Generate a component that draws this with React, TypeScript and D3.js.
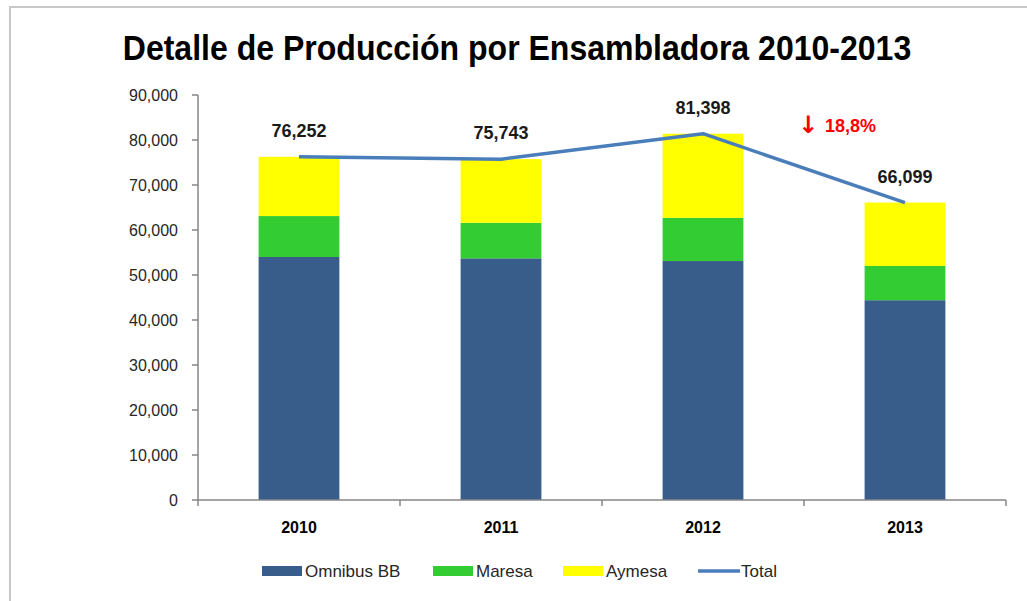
import React from 'react';
import * as d3 from 'd3';

const width = 1027;
const height = 601;

const years = ['2010', '2011', '2012', '2013'];
const omnibus = [54000, 53700, 53100, 44400];
const maresa = [9100, 7900, 9600, 7600];
const aymesa = [13152, 14143, 18698, 14099];
const totals = [76252, 75743, 81398, 66099];
const yTicks = [0, 10000, 20000, 30000, 40000, 50000, 60000, 70000, 80000, 90000];

const seriesNames = ['Omnibus BB', 'Maresa', 'Aymesa'];
const colors = ['#385d8a', '#33cc33', '#ffff00'];
const lineColor = '#4a7ebb';
const font = '"Liberation Sans", Arial, sans-serif';

const x = d3.scaleBand().domain(years).range([198, 1006]).paddingInner(0.6).paddingOuter(0.3);
const y = d3.scaleLinear().domain([0, 90000]).range([500, 95]);

const rows = years.map((yr, i) => ({ year: yr, 'Omnibus BB': omnibus[i], Maresa: maresa[i], Aymesa: aymesa[i] }));
const stacked = d3.stack().keys(seriesNames)(rows as any);

const fmt = d3.format(',');

const totalLine = d3
  .line<number>()
  .x((d, i) => x(years[i])! + x.bandwidth() / 2)
  .y(d => y(d));

const step = x.step();
const boundaries = d3.range(years.length + 1).map(i => 198 + i * step);

const legend = [
  { label: 'Omnibus BB', color: colors[0], x: 262, type: 'rect' },
  { label: 'Maresa', color: colors[1], x: 433, type: 'rect' },
  { label: 'Aymesa', color: colors[2], x: 563, type: 'rect' },
  { label: 'Total', color: lineColor, x: 698, type: 'line' }
];

export default function App() {
  return (
    <div style={{ position: 'absolute', left: 0, top: 0 }}>
      <svg width={width} height={height} style={{ display: 'block', background: '#fff' }}>
        <rect x={10} y={7} width={1030} height={600} fill="#fff" stroke="#c8c8c8" strokeWidth={2} />
        <g transform="translate(517,60) scale(0.89,1)">
          <text
            x={0}
            y={0}
            textAnchor="middle"
            style={{ fontFamily: font, fontWeight: 'bold', fontSize: '36px', fill: '#000' }}
          >
            Detalle de Producción por Ensambladora 2010-2013
          </text>
        </g>

        {/* stacked bars */}
        {stacked.map((layer, li) => (
          <g key={layer.key} fill={colors[li]}>
            {layer.map((d, i) => (
              <rect
                key={i}
                x={x(years[i])}
                y={y(d[1])}
                width={x.bandwidth()}
                height={y(d[0]) - y(d[1])}
              />
            ))}
          </g>
        ))}

        {/* y axis */}
        <line x1={198} x2={198} y1={y(90000)} y2={y(0)} stroke="#868686" strokeWidth={1.5} />
        {yTicks.map(t => (
          <g key={t}>
            <line x1={192} x2={198} y1={y(t)} y2={y(t)} stroke="#868686" strokeWidth={1.5} />
            <text
              x={178}
              y={y(t)}
              dy="0.36em"
              textAnchor="end"
              style={{ fontFamily: font, fontSize: '16px', fill: '#262626' }}
            >
              {fmt(t)}
            </text>
          </g>
        ))}

        {/* x axis */}
        <line x1={198} x2={1006} y1={500} y2={500} stroke="#868686" strokeWidth={1.5} />
        {boundaries.map(b => (
          <line key={b} x1={b} x2={b} y1={500} y2={506} stroke="#868686" strokeWidth={1.5} />
        ))}
        {years.map(yr => (
          <text
            key={yr}
            x={x(yr)! + x.bandwidth() / 2}
            y={533}
            textAnchor="middle"
            style={{ fontFamily: font, fontSize: '16px', fontWeight: 'bold', fill: '#000' }}
          >
            {yr}
          </text>
        ))}

        {/* total line */}
        <path d={totalLine(totals) || ''} fill="none" stroke={lineColor} strokeWidth={3.5} strokeLinejoin="round" />
        {totals.map((t, i) => (
          <text
            key={i}
            x={x(years[i])! + x.bandwidth() / 2}
            y={y(t) - 20}
            textAnchor="middle"
            style={{ fontFamily: font, fontSize: '18px', fontWeight: 'bold', fill: '#1a1a1a' }}
          >
            {fmt(t)}
          </text>
        ))}

        <text x={798} y={133} style={{ fontFamily: '"DejaVu Sans", ' + font, fontSize: '24px', fontWeight: 'bold', fill: '#ff0000' }}>
          ↓
        </text>
        <text x={825} y={132} style={{ fontFamily: font, fontSize: '18px', fontWeight: 'bold', fill: '#ff0000' }}>
          18,8%
        </text>

        {/* legend */}
        {legend.map(l => (
          <g key={l.label}>
            {l.type === 'rect' ? (
              <rect x={l.x} y={566} width={40} height={10} fill={l.color} />
            ) : (
              <line x1={l.x} x2={l.x + 42} y1={571} y2={571} stroke={l.color} strokeWidth={3.5} />
            )}
            <text
              x={l.x + 43}
              y={571}
              dy="0.36em"
              style={{ fontFamily: font, fontSize: '17px', fill: '#262626' }}
            >
              {l.label}
            </text>
          </g>
        ))}
      </svg>
    </div>
  );
}
